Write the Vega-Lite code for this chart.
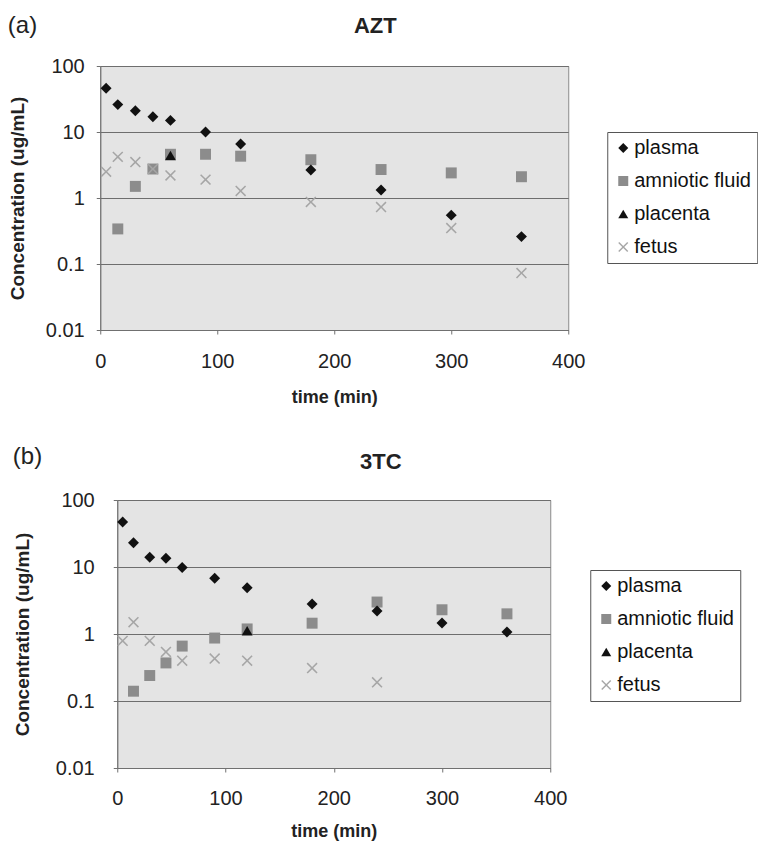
{
  "$schema": "https://vega.github.io/schema/vega-lite/v6.json",
  "background": "white",
  "padding": {"left": 7, "top": 13, "right": 0, "bottom": 0},
  "config": {
    "font": "Liberation Sans",
    "view": {"fill": "#e4e4e4", "stroke": "#8a8a8a", "strokeWidth": 1},
    "axis": {
      "labelFont": "Liberation Sans", "labelFontSize": 20, "labelColor": "#222222",
      "titleFont": "Liberation Sans", "titleFontWeight": "bold", "titleColor": "#222222",
      "domainColor": "#707070", "tickColor": "#707070", "tickSize": 4,
      "gridColor": "#6e6e6e", "gridWidth": 1
    },
    "legend": {
      "labelFont": "Liberation Sans", "labelFontSize": 20, "labelColor": "#111111",
      "symbolSize": 100, "strokeColor": "#555555", "fillColor": "white",
      "padding": 6, "rowPadding": 13, "labelOffset": 1, "symbolStrokeWidth": 0,
      "symbolOpacity": 1
    },
    "title": {"font": "Liberation Sans", "color": "#222222"}
  },
  "datasets": {
    "d": [
      {"drug": "AZT", "series": "amniotic fluid", "t": 15, "c": 0.34},
      {"drug": "AZT", "series": "amniotic fluid", "t": 30, "c": 1.5},
      {"drug": "AZT", "series": "amniotic fluid", "t": 45, "c": 2.75},
      {"drug": "AZT", "series": "amniotic fluid", "t": 60, "c": 4.6},
      {"drug": "AZT", "series": "amniotic fluid", "t": 90, "c": 4.6},
      {"drug": "AZT", "series": "amniotic fluid", "t": 120, "c": 4.3},
      {"drug": "AZT", "series": "amniotic fluid", "t": 180, "c": 3.8},
      {"drug": "AZT", "series": "amniotic fluid", "t": 240, "c": 2.7},
      {"drug": "AZT", "series": "amniotic fluid", "t": 300, "c": 2.4},
      {"drug": "AZT", "series": "amniotic fluid", "t": 360, "c": 2.1},
      {"drug": "AZT", "series": "fetus", "t": 5, "c": 2.5},
      {"drug": "AZT", "series": "fetus", "t": 15, "c": 4.2},
      {"drug": "AZT", "series": "fetus", "t": 30, "c": 3.5},
      {"drug": "AZT", "series": "fetus", "t": 45, "c": 2.75},
      {"drug": "AZT", "series": "fetus", "t": 60, "c": 2.2},
      {"drug": "AZT", "series": "fetus", "t": 90, "c": 1.9},
      {"drug": "AZT", "series": "fetus", "t": 120, "c": 1.28},
      {"drug": "AZT", "series": "fetus", "t": 180, "c": 0.87},
      {"drug": "AZT", "series": "fetus", "t": 240, "c": 0.73},
      {"drug": "AZT", "series": "fetus", "t": 300, "c": 0.35},
      {"drug": "AZT", "series": "fetus", "t": 360, "c": 0.073},
      {"drug": "AZT", "series": "placenta", "t": 60, "c": 4.4},
      {"drug": "AZT", "series": "plasma", "t": 5, "c": 46},
      {"drug": "AZT", "series": "plasma", "t": 15, "c": 26},
      {"drug": "AZT", "series": "plasma", "t": 30, "c": 21},
      {"drug": "AZT", "series": "plasma", "t": 45, "c": 17},
      {"drug": "AZT", "series": "plasma", "t": 60, "c": 15},
      {"drug": "AZT", "series": "plasma", "t": 90, "c": 10},
      {"drug": "AZT", "series": "plasma", "t": 120, "c": 6.6},
      {"drug": "AZT", "series": "plasma", "t": 180, "c": 2.65},
      {"drug": "AZT", "series": "plasma", "t": 240, "c": 1.32},
      {"drug": "AZT", "series": "plasma", "t": 300, "c": 0.55},
      {"drug": "AZT", "series": "plasma", "t": 360, "c": 0.26},
      {"drug": "3TC", "series": "amniotic fluid", "t": 15, "c": 0.14},
      {"drug": "3TC", "series": "amniotic fluid", "t": 30, "c": 0.24},
      {"drug": "3TC", "series": "amniotic fluid", "t": 45, "c": 0.37},
      {"drug": "3TC", "series": "amniotic fluid", "t": 60, "c": 0.66},
      {"drug": "3TC", "series": "amniotic fluid", "t": 90, "c": 0.87},
      {"drug": "3TC", "series": "amniotic fluid", "t": 120, "c": 1.19},
      {"drug": "3TC", "series": "amniotic fluid", "t": 180, "c": 1.45},
      {"drug": "3TC", "series": "amniotic fluid", "t": 240, "c": 3.0},
      {"drug": "3TC", "series": "amniotic fluid", "t": 300, "c": 2.3},
      {"drug": "3TC", "series": "amniotic fluid", "t": 360, "c": 2.0},
      {"drug": "3TC", "series": "fetus", "t": 5, "c": 0.79},
      {"drug": "3TC", "series": "fetus", "t": 15, "c": 1.5},
      {"drug": "3TC", "series": "fetus", "t": 30, "c": 0.79},
      {"drug": "3TC", "series": "fetus", "t": 45, "c": 0.54},
      {"drug": "3TC", "series": "fetus", "t": 60, "c": 0.4},
      {"drug": "3TC", "series": "fetus", "t": 90, "c": 0.43},
      {"drug": "3TC", "series": "fetus", "t": 120, "c": 0.4},
      {"drug": "3TC", "series": "fetus", "t": 180, "c": 0.31},
      {"drug": "3TC", "series": "fetus", "t": 240, "c": 0.19},
      {"drug": "3TC", "series": "placenta", "t": 120, "c": 1.12},
      {"drug": "3TC", "series": "plasma", "t": 5, "c": 47},
      {"drug": "3TC", "series": "plasma", "t": 15, "c": 23},
      {"drug": "3TC", "series": "plasma", "t": 30, "c": 14},
      {"drug": "3TC", "series": "plasma", "t": 45, "c": 13.5},
      {"drug": "3TC", "series": "plasma", "t": 60, "c": 9.8},
      {"drug": "3TC", "series": "plasma", "t": 90, "c": 6.8},
      {"drug": "3TC", "series": "plasma", "t": 120, "c": 4.9},
      {"drug": "3TC", "series": "plasma", "t": 180, "c": 2.8},
      {"drug": "3TC", "series": "plasma", "t": 240, "c": 2.2},
      {"drug": "3TC", "series": "plasma", "t": 300, "c": 1.46},
      {"drug": "3TC", "series": "plasma", "t": 360, "c": 1.07}
    ]
  },
  "center": true,
  "spacing": 37,
  "resolve": {"scale": {"shape": "independent", "color": "independent", "x": "independent", "y": "independent"}},
  "vconcat": [
    {
      "title": {"text": "(a)", "anchor": "start", "frame": "bounds", "fontSize": 24, "fontWeight": "normal", "offset": -23},
      "vconcat": [
        {
          "title": {"text": "AZT", "fontSize": 22, "fontWeight": "bold", "anchor": "middle", "dx": 41, "offset": 18},
          "width": 468,
          "height": 264,
          "data": {"name": "d"},
          "transform": [{"filter": "datum.drug === 'AZT'"}],
          "mark": {"type": "point", "filled": true, "size": 120, "opacity": 1},
          "encoding": {
            "x": {"field": "t", "type": "quantitative", "scale": {"domain": [0, 400], "nice": false},
                  "axis": {"values": [0, 100, 200, 300, 400], "title": "time (min)", "titleFontSize": 18, "labelPadding": 17, "titlePadding": 17, "grid": false, "labelFlush": false}},
            "y": {"field": "c", "type": "quantitative", "scale": {"type": "log", "domain": [0.01, 100], "nice": false},
                  "axis": {"values": [0.01, 0.1, 1, 10, 100], "format": "~g", "title": "Concentration (ug/mL)", "titleFontSize": 19, "labelPadding": 12, "titlePadding": 18, "grid": true}},
            "color": {"field": "series", "type": "nominal",
                      "scale": {"domain": ["plasma", "amniotic fluid", "placenta", "fetus"], "range": ["#111111", "#8c8c8c", "#111111", "#a6a6a6"]},
                      "legend": {"title": null, "orient": "none", "legendX": 507, "legendY": 66}},
            "shape": {"field": "series", "type": "nominal",
                      "scale": {"domain": ["plasma", "amniotic fluid", "placenta", "fetus"], "range": ["diamond", "square", "triangle-up", "M-1,-0.8L-0.8,-1L0,-0.2L0.8,-1L1,-0.8L0.2,0L1,0.8L0.8,1L0,0.2L-0.8,1L-1,0.8L-0.2,0Z"]},
                      "legend": {"title": null, "orient": "none", "legendX": 507, "legendY": 66}}
          }
        }
      ]
    },
    {
      "title": {"text": "(b)", "anchor": "start", "frame": "bounds", "fontSize": 24, "fontWeight": "normal", "offset": -18},
      "vconcat": [
        {
          "title": {"text": "3TC", "fontSize": 22, "fontWeight": "bold", "anchor": "middle", "dx": 47, "offset": 16},
          "width": 433,
          "height": 268,
          "data": {"name": "d"},
          "transform": [{"filter": "datum.drug === '3TC'"}],
          "mark": {"type": "point", "filled": true, "size": 120, "opacity": 1},
          "encoding": {
            "x": {"field": "t", "type": "quantitative", "scale": {"domain": [0, 400], "nice": false},
                  "axis": {"values": [0, 100, 200, 300, 400], "title": "time (min)", "titleFontSize": 18, "labelPadding": 16, "titlePadding": 14, "grid": false, "labelFlush": false}},
            "y": {"field": "c", "type": "quantitative", "scale": {"type": "log", "domain": [0.01, 100], "nice": false},
                  "axis": {"values": [0.01, 0.1, 1, 10, 100], "format": "~g", "title": "Concentration (ug/mL)", "titleFontSize": 19, "labelPadding": 19, "titlePadding": 23, "grid": true}},
            "color": {"field": "series", "type": "nominal",
                      "scale": {"domain": ["plasma", "amniotic fluid", "placenta", "fetus"], "range": ["#111111", "#8c8c8c", "#111111", "#a6a6a6"]},
                      "legend": {"title": null, "orient": "none", "legendX": 473, "legendY": 70}},
            "shape": {"field": "series", "type": "nominal",
                      "scale": {"domain": ["plasma", "amniotic fluid", "placenta", "fetus"], "range": ["diamond", "square", "triangle-up", "M-1,-0.8L-0.8,-1L0,-0.2L0.8,-1L1,-0.8L0.2,0L1,0.8L0.8,1L0,0.2L-0.8,1L-1,0.8L-0.2,0Z"]},
                      "legend": {"title": null, "orient": "none", "legendX": 473, "legendY": 70}}
          }
        }
      ]
    }
  ]
}
